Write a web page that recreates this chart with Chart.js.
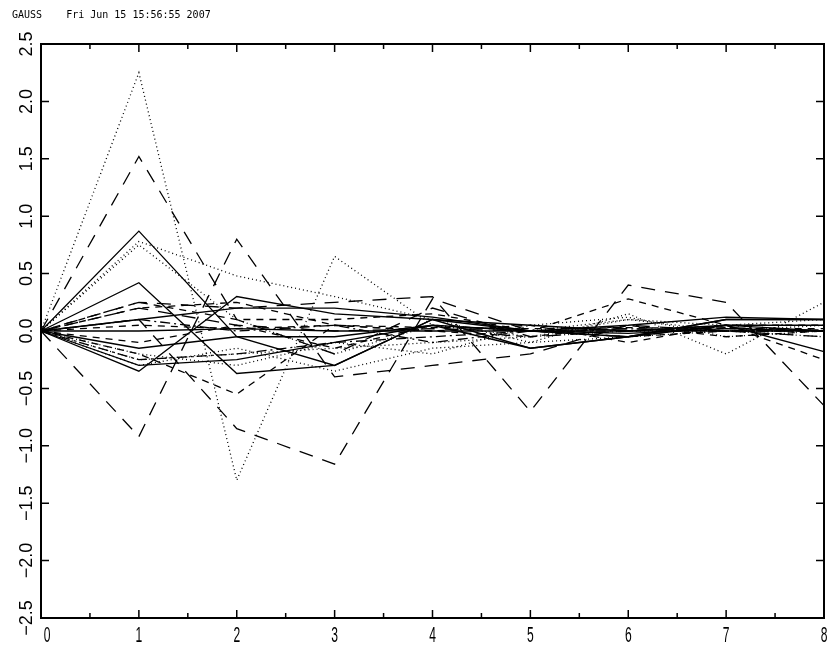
<!DOCTYPE html>
<html>
<head>
<meta charset="utf-8">
<title>GAUSS</title>
<script src="https://cdn.jsdelivr.net/npm/chart.js@4/dist/chart.umd.min.js"></script>
<style>
    html, body { margin: 0; padding: 0; background: #ffffff; }
    #grafico { display: block; }
</style>
</head>
<body>
<canvas id="grafico" width="828" height="651"></canvas>
<script>
/*global Chart*/

var categorias = ["0", "1", "2", "3", "4", "5", "6", "7", "8"];
var ticksX = ["0", "1", "2", "3", "4", "5", "6", "7", "8"];
var ticksY = ["-2.5", "-2.0", "-1.5", "-1.0", "-0.5", "0.0", "0.5", "1.0", "1.5", "2.0", "2.5"];
var cabecera = "GAUSS    Fri Jun 15 15:56:55 2007";

// solid lines
var solido1 = [0, 0.87, -0.05, -0.3, 0.1, 0.05, 0.0, 0.05, 0.05];
var solido2 = [0, 0.42, -0.37, -0.3, 0.1, -0.15, -0.05, 0.1, 0.1];
var solido3 = [0, -0.35, 0.3, 0.15, 0.1, 0.0, -0.05, 0.1, 0.1];
var solido4 = [0, 0.0, 0.02, 0.0, 0.0, 0.0, 0.0, 0.0, 0.0];
var solido5 = [0, -0.15, -0.05, -0.05, 0.05, -0.15, -0.05, 0.05, -0.18];
var solido6 = [0, 0.1, 0.2, 0.2, 0.12, 0.0, 0.05, 0.12, 0.1];
var solido7 = [0, -0.3, -0.25, -0.1, 0.05, 0.0, -0.02, 0.02, 0.0];

// dotted lines
var punteado1 = [0, 2.25, -1.3, 0.65, 0.05, -0.05, 0.1, 0.0, 0.05];
var punteado2 = [0, 0.78, 0.48, 0.3, 0.1, -0.1, 0.15, -0.2, 0.25];
var punteado3 = [0, -0.3, -0.15, -0.35, -0.15, -0.1, -0.05, 0.0, -0.05];
var punteado4 = [0, 0.75, 0.1, -0.2, 0.05, 0.0, 0.1, 0.05, 0.1];
var punteado5 = [0, -0.2, -0.3, -0.1, -0.2, 0.05, 0.12, -0.05, 0.0];
var punteado6 = [0, -0.25, -0.2, -0.15, -0.1, -0.05, 0.0, 0.0, 0.0];

// long dashes
var rayado1 = [0, 1.52, 0.1, -0.2, 0.2, -0.05, 0.0, 0.05, 0.0];
var rayado2 = [0, 0.25, 0.2, 0.25, 0.3, -0.7, 0.4, 0.25, -0.65];
var rayado3 = [0, 0.1, -0.85, -1.16, 0.28, 0.0, -0.05, 0.05, 0.0];
var rayado4 = [0, -0.92, 0.8, -0.4, -0.3, -0.2, 0.05, 0.0, -0.05];
var rayado5 = [0, 0.2, 0.05, 0.0, 0.02, 0.0, 0.02, 0.0, 0.01];

// short dashes
var guion1 = [0, 0.25, 0.1, 0.1, 0.15, 0.0, 0.28, 0.05, -0.25];
var guion2 = [0, -0.2, -0.55, 0.05, 0.0, 0.05, -0.1, 0.05, 0.05];
var guion3 = [0, 0.2, 0.25, 0.05, 0.0, -0.05, 0.05, -0.05, 0.0];
var guion4 = [0, -0.1, 0.05, -0.15, 0.05, 0.0, -0.05, 0.0, 0.0];
var guion5 = [0, 0.05, 0.02, 0.05, 0.03, 0.02, 0.03, 0.02, 0.02];

// dash-dot lines
var mixto1 = [0, 0.1, 0.0, 0.05, -0.1, 0.0, 0.02, 0.0, 0.0];
var mixto2 = [0, -0.25, -0.2, -0.1, -0.05, 0.0, 0.0, 0.03, 0.0];

var estilos = {
    solido: [],
    punteado: [1, 3],
    rayado: [14, 10],
    guion: [7, 6],
    mixto: [10, 4, 2, 4]
};

function serie(valores, estilo) {
    "use strict";
    return {
        data: valores,
        borderColor: "#000000",
        borderWidth: 1.3,
        borderDash: estilos[estilo],
        pointRadius: 0,
        fill: false,
        tension: 0
    };
}

var marco = {
    id: "marco",
    afterDraw: function (chart) {
        "use strict";
        var ctx = chart.ctx;
        var area = chart.chartArea;
        var sx = chart.scales.x;
        var sy = chart.scales.y;
        var i, px, py, largo;

        ctx.save();
        ctx.strokeStyle = "#000000";
        ctx.fillStyle = "#000000";
        ctx.lineWidth = 2;
        ctx.strokeRect(area.left, area.top, area.right - area.left, area.bottom - area.top);

        ctx.lineWidth = 1.5;
        ctx.beginPath();
        for (i = 0; i <= 16; i += 1) {
            px = sx.left + (sx.right - sx.left) * i / 16;
            largo = (i % 2 === 0) ? 8 : 5;
            ctx.moveTo(px, area.bottom);
            ctx.lineTo(px, area.bottom - largo);
            ctx.moveTo(px, area.top);
            ctx.lineTo(px, area.top + largo);
        }
        for (i = 0; i < ticksY.length; i += 1) {
            py = sy.getPixelForValue(parseFloat(ticksY[i]));
            ctx.moveTo(area.left, py);
            ctx.lineTo(area.left + 8, py);
            ctx.moveTo(area.right, py);
            ctx.lineTo(area.right - 8, py);
        }
        ctx.stroke();

        ctx.font = "22px 'Liberation Sans', Arial, sans-serif";
        ctx.textAlign = "center";
        ctx.textBaseline = "middle";
        for (i = 0; i < ticksX.length; i += 1) {
            px = sx.getPixelForValue(i);
            ctx.save();
            ctx.translate(px + (i === 0 ? 6 : 0), area.bottom + 18);
            ctx.scale(0.55, 1);
            ctx.fillText(ticksX[i], 0, 0);
            ctx.restore();
        }

        ctx.font = "18px 'Liberation Sans', Arial, sans-serif";
        for (i = 0; i < ticksY.length; i += 1) {
            py = sy.getPixelForValue(parseFloat(ticksY[i]));
            ctx.save();
            ctx.translate(27, py);
            ctx.rotate(-Math.PI / 2);
            ctx.fillText(ticksY[i].replace("-", "\u2212"), 0, 0);
            ctx.restore();
        }

        ctx.font = "10px 'DejaVu Sans Mono', monospace";
        ctx.textAlign = "left";
        ctx.fillText(cabecera, 12, 15);
        ctx.restore();
    }
};

document.addEventListener("DOMContentLoaded", function () {
    "use strict";
    var canvas = document.getElementById("grafico");

    new Chart(canvas, {
        type: "line",
        data: {
            labels: categorias,
            datasets: [
                serie(solido1, "solido"),
                serie(solido2, "solido"),
                serie(solido3, "solido"),
                serie(solido4, "solido"),
                serie(solido5, "solido"),
                serie(solido6, "solido"),
                serie(solido7, "solido"),
                serie(punteado1, "punteado"),
                serie(punteado2, "punteado"),
                serie(punteado3, "punteado"),
                serie(punteado4, "punteado"),
                serie(punteado5, "punteado"),
                serie(punteado6, "punteado"),
                serie(rayado1, "rayado"),
                serie(rayado2, "rayado"),
                serie(rayado3, "rayado"),
                serie(rayado4, "rayado"),
                serie(rayado5, "rayado"),
                serie(guion1, "guion"),
                serie(guion2, "guion"),
                serie(guion3, "guion"),
                serie(guion4, "guion"),
                serie(guion5, "guion"),
                serie(mixto1, "mixto"),
                serie(mixto2, "mixto")
            ]
        },
        options: {
            responsive: false,
            animation: false,
            layout: {
                padding: { left: 41, right: 4, top: 44, bottom: 33 }
            },
            plugins: {
                legend: { display: false },
                tooltip: { enabled: false }
            },
            scales: {
                x: {
                    type: "category",
                    offset: false,
                    display: false
                },
                y: {
                    min: -2.5,
                    max: 2.5,
                    display: false
                }
            }
        },
        plugins: [marco]
    });
});
</script>
</body>
</html>
